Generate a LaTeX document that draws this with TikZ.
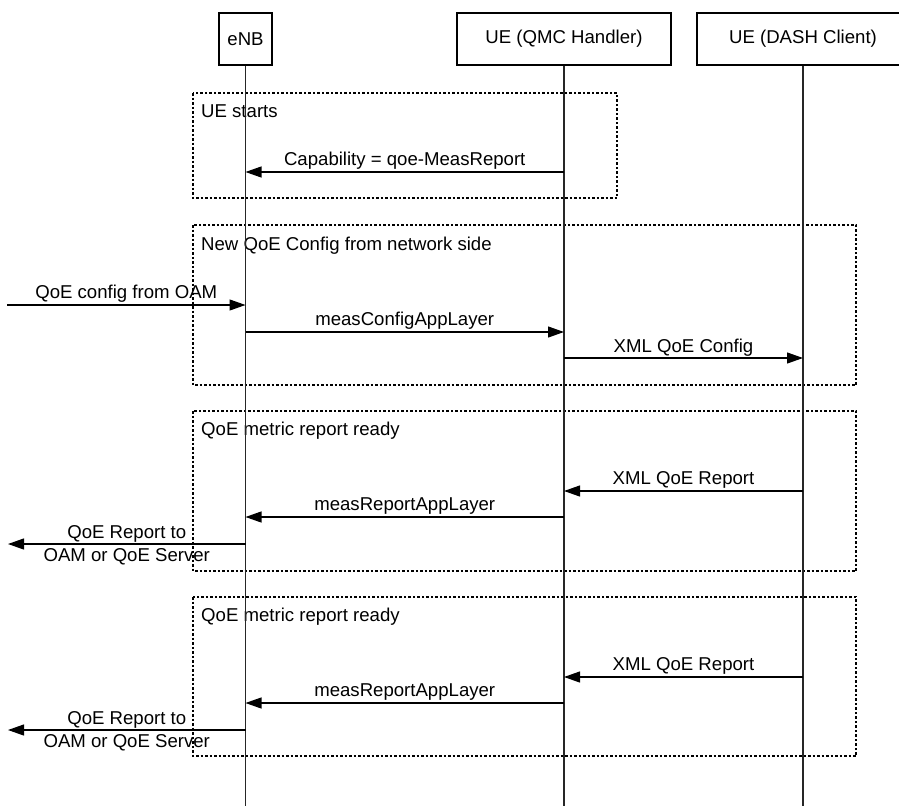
\documentclass[tikz,border=0pt]{standalone}
\usepackage{fontspec}
\setmainfont{Liberation Sans}
\usetikzlibrary{arrows.meta}
\begin{document}
\begin{tikzpicture}[x=1pt,y=-1pt,
  txt/.style={font=\fontsize{18.6}{22}\selectfont},
  actor/.style={txt, draw, line width=1.2pt, minimum height=52pt, inner sep=0pt},
  life/.style={line width=1.3pt, draw=black!85},
  msg/.style={line width=1.2pt, -{Triangle[length=16pt,width=11pt]}},
  lbl/.style={txt, inner sep=0pt, anchor=base},
  frame/.style={draw, line width=1.3pt, dash pattern=on 2.5pt off 2pt},
  ftitle/.style={txt, inner sep=0pt, anchor=base west},
]
\useasboundingbox (0,0) rectangle (899,806);

% actors
\node[actor, minimum width=53pt]  (enb)  at (245.5,39) {eNB};
\node[actor, minimum width=214pt] (qmc)  at (564,39)   {UE (QMC Handler)};
\node[actor, minimum width=212pt] (dash) at (803,39)   {UE (DASH Client)};

% frames
\draw[frame] (193,93)  rectangle (617,198);
\draw[frame] (193,225) rectangle (856,385);
\draw[frame] (193,411) rectangle (856,571);
\draw[frame] (193,597) rectangle (856,756);
\node[ftitle] (f1) at (201,117) {UE starts};
\node[ftitle] (f2) at (201,250) {New QoE Config from network side};
\node[ftitle] (f3) at (201,435) {QoE metric report ready};
\node[ftitle] (f4) at (201,621) {QoE metric report ready};

% lifelines
\coordinate (enbEnd)  at (245.5,806);
\coordinate (qmcEnd)  at (564,806);
\coordinate (dashEnd) at (803,806);
\draw[life] (enb.south)  -- (enbEnd);
\draw[life] (qmc.south)  -- (qmcEnd);
\draw[life] (dash.south) -- (dashEnd);

% message anchor points
\coordinate (q1) at (564,172);   \coordinate (e1) at (245.5,172);
\coordinate (oamIn) at (7,305);  \coordinate (e2) at (245.5,305);
\coordinate (e3) at (245.5,332); \coordinate (q3) at (564,332);
\coordinate (q4) at (564,358);   \coordinate (d4) at (803,358);
\coordinate (d5) at (803,491);   \coordinate (q5) at (564,491);
\coordinate (q6) at (564,517);   \coordinate (e6) at (245.5,517);
\coordinate (e7) at (245.5,544); \coordinate (oamOut1) at (8,544);
\coordinate (d8) at (803,677);   \coordinate (q8) at (564,677);
\coordinate (q9) at (564,703);   \coordinate (e9) at (245.5,703);
\coordinate (e10) at (245.5,730); \coordinate (oamOut2) at (8,730);

% messages
\draw[msg] (q1) -- node[lbl, yshift=7pt] {Capability = qoe-MeasReport} (e1);
\draw[msg] (oamIn) -- node[lbl, yshift=7pt] {QoE config from OAM} (e2);
\draw[msg] (e3) -- node[lbl, yshift=7pt] {measConfigAppLayer} (q3);
\draw[msg] (q4) -- node[lbl, yshift=6pt] {XML QoE Config} (d4);
\draw[msg] (d5) -- node[lbl, yshift=7pt] {XML QoE Report} (q5);
\draw[msg] (q6) -- node[lbl, yshift=7pt] {measReportAppLayer} (e6);
\draw[msg] (e7) -- node[lbl, yshift=6pt] {QoE Report to}
                   node[lbl, yshift=-17pt] {OAM or QoE Server} (oamOut1);
\draw[msg] (d8) -- node[lbl, yshift=7pt] {XML QoE Report} (q8);
\draw[msg] (q9) -- node[lbl, yshift=7pt] {measReportAppLayer} (e9);
\draw[msg] (e10) -- node[lbl, yshift=6pt] {QoE Report to}
                    node[lbl, yshift=-17pt] {OAM or QoE Server} (oamOut2);
\end{tikzpicture}
\end{document}
